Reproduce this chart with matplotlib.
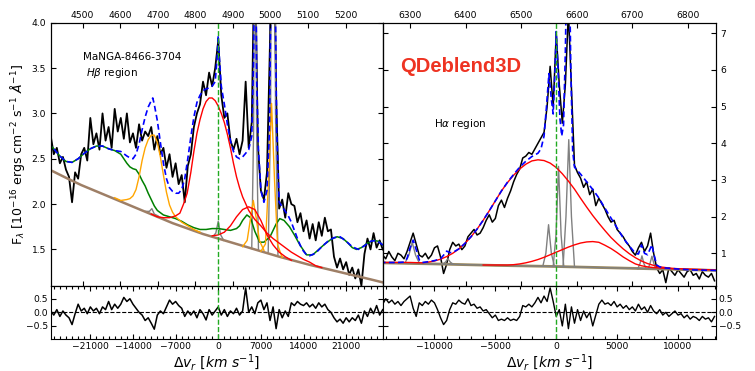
import numpy as np
import matplotlib.pyplot as plt
from matplotlib.ticker import MultipleLocator

C_KMS = 299792.458
LAM_HB = 4861.0
LAM_HA = 6563.0

# ---------------- H-beta region (left) ----------------
hb_v = np.arange(-27500, 27001, 500)
hb_flux = [2.75, 2.55, 2.62, 2.45, 2.52, 2.38, 2.30, 2.02, 2.35, 2.28,
           2.55, 2.62, 2.48, 2.95, 2.66, 2.78, 2.60, 3.00, 2.70, 2.85,
           2.62, 3.05, 2.80, 2.95, 2.72, 3.00, 2.68, 2.78, 2.62, 2.88,
           2.70, 2.80, 2.75, 2.85, 2.60, 2.75, 2.55, 2.62, 2.40, 2.55,
           2.30, 2.45, 2.22, 2.32, 2.02, 2.42, 2.55, 2.85, 3.00, 3.10,
           3.35, 3.20, 3.45, 3.30, 3.50, 3.80, 3.20, 2.95, 3.00, 2.70,
           2.60, 2.72, 2.55, 2.70, 3.35, 2.62, 2.90, 5.00, 2.65, 2.15,
           2.05, 2.35, 3.80, 6.00, 3.20, 1.95, 2.05, 1.85, 2.12, 2.00,
           1.98, 1.80, 1.90, 1.70, 1.82, 1.62, 1.78, 1.60, 1.80, 1.65,
           1.85, 1.70, 1.72, 1.42, 1.30, 1.40, 1.28, 1.36, 1.22, 1.30,
           1.18, 1.28, 1.10, 1.45, 1.62, 1.50, 1.68, 1.52, 1.60, 1.50]
hb_resid = [0.05, -0.10, 0.10, -0.15, 0.05, -0.10, -0.20, -0.45, -0.05, 0.30,
            0.05, 0.15, -0.05, 0.20, 0.05, 0.15, -0.05, 0.20, 0.10, 0.40,
            0.10, 0.30, 0.15, 0.30, 0.55, 0.40, 0.50, 0.30, 0.15, 0.00,
            -0.10, -0.30, -0.20, -0.40, -0.62, -0.10, 0.05, -0.05, 0.20, 0.45,
            0.30, 0.40, 0.25, 0.15, -0.15, 0.05, -0.10, 0.05, -0.20, 0.10,
            -0.05, -0.28, 0.10, -0.10, 0.05, 0.20, -0.10, 0.10, -0.15, 0.05,
            -0.05, 0.15, -0.10, 0.05, 0.90, 0.00, 0.20, -0.05, 0.35, 0.45,
            0.10, 0.35, -0.30, 0.20, -0.60, 0.10, -0.20, 0.05, -0.15, 0.35,
            0.25, 0.40, 0.30, 0.25, 0.35, 0.20, 0.30, 0.15, 0.35, 0.20,
            0.30, 0.10, 0.00, -0.20, -0.35, -0.25, -0.40, -0.20, -0.35, -0.20,
            -0.30, -0.10, -0.40, 0.05, -0.15, 0.15, -0.05, 0.25, -0.10, 0.10]

hb_cont_v = [-28000, -25000, -22500, -20000, -17500, -15000, -12500, -10000, -7500, -5000, -2500, 0,
             2500, 5000, 7500, 10000, 12500, 15000, 17500, 20000, 22500, 25000, 28000]
hb_cont = [2.39, 2.29, 2.21, 2.14, 2.07, 2.00, 1.93, 1.86, 1.79, 1.73, 1.67, 1.62,
           1.57, 1.52, 1.47, 1.42, 1.375, 1.33, 1.29, 1.25, 1.21, 1.17, 1.12]

hb_feii_v = [-28000, -27000, -26000, -25000, -24000, -23000, -22000, -21000, -20000, -19000, -18000,
             -17000, -16000, -15000, -14500, -14000, -13500, -13000, -12500, -12000, -11500, -11000,
             -10500, -10000, -9000, -8000, -7000, -6000, -5000, -4000, -3000, -2000, -1000, 0, 1000,
             2000, 3000, 3500, 4000, 4700, 5300, 6000, 6800, 7500, 8500, 9500, 10100, 10800, 11700,
             12500, 13400, 14500, 15500, 16500, 17500, 18500, 19500, 20500, 21300, 22000, 22700,
             23500, 24500, 25500, 26300, 27000, 28000]
hb_feii = [2.68, 2.61, 2.53, 2.47, 2.46, 2.50, 2.56, 2.61, 2.64, 2.64, 2.61,
           2.59, 2.55, 2.45, 2.41, 2.39, 2.38, 2.33, 2.26, 2.20, 2.12, 2.05,
           1.98, 1.93, 1.88, 1.86, 1.84, 1.81, 1.77, 1.74, 1.72, 1.72, 1.73, 1.73, 1.72,
           1.71, 1.73, 1.76, 1.82, 1.88, 1.85, 1.70, 1.58, 1.58, 1.64, 1.78, 1.84, 1.82, 1.75,
           1.66, 1.55, 1.44, 1.44, 1.50, 1.56, 1.61, 1.64, 1.62, 1.57, 1.52, 1.50,
           1.52, 1.57, 1.60, 1.59, 1.55, 1.50]

hb_heii_v = [-17000, -16000, -15000, -14500, -14000, -13500, -13000, -12500, -12000, -11500, -11000,
             -10500, -10000, -9500, -9000, -8500, -8000, -7500, -7000, -6000, -5000, -4000, -3000]
hb_heii = [2.07, 2.04, 2.05, 2.06, 2.09, 2.16, 2.30, 2.48, 2.62, 2.71, 2.76,
           2.76, 2.68, 2.52, 2.32, 2.13, 1.99, 1.91, 1.86, 1.80, 1.76, 1.72, 1.69]
hb_o3a_v = [4000, 4750, 5250, 5750, 6250, 6750, 7500]
hb_o3a = [1.53, 1.60, 1.82, 2.04, 1.84, 1.60, 1.49]
hb_o3b_v = [7000, 7750, 8250, 8750, 9250, 9750, 10500]
hb_o3b = [1.48, 1.56, 2.25, 3.11, 2.25, 1.55, 1.41]

hb_broad_v = [-11000, -10000, -9000, -8000, -7000, -6300, -5700, -5100, -4500, -4000, -3500, -3000,
              -2500, -2000, -1500, -1000, -500, 0, 500, 1000, 1500, 2000, 2500, 3000, 3500, 4000,
              5000, 6000, 7000, 8000, 9000, 10000, 11000, 12000, 13000, 14000, 15000, 16000, 17000]
hb_broad = [1.89, 1.86, 1.85, 1.85, 1.87, 1.90, 2.00, 2.12, 2.35, 2.58, 2.78, 2.93,
            3.05, 3.13, 3.17, 3.17, 3.14, 3.08, 3.00, 2.90, 2.77, 2.62, 2.45, 2.30, 2.18, 2.08,
            1.93, 1.83, 1.76, 1.68, 1.62, 1.57, 1.52, 1.47, 1.43, 1.39, 1.36, 1.32, 1.30]
hb_bump_v = [-1000, 0, 1000, 2000, 3000, 4000, 5000, 6000, 7000, 8000, 9000, 10000, 11000, 12000]
hb_bump = [1.65, 1.66, 1.69, 1.76, 1.86, 1.94, 1.97, 1.94, 1.82, 1.66, 1.55, 1.47, 1.42, 1.38]

hb_narrow = [([-11900, -11300, -10900, -10500, -9900], [1.92, 1.92, 1.95, 1.89, 1.87]),
             ([-900, -400, 0, 400, 900], [1.64, 1.68, 1.81, 1.66, 1.60]),
             ([5500, 5800, 6050, 6300, 6600], [1.51, 2.80, 6.50, 2.80, 1.50]),
             ([8200, 8600, 9000, 9400, 9800], [1.47, 3.00, 12.0, 3.00, 1.44])]

hb_model_v = [-28000, -27000, -26000, -25000, -24000, -23000, -22000, -21000, -20000, -19000, -18000,
              -17000, -16000, -15000, -14500, -14000, -13500, -13000, -12500, -12000, -11500, -11000,
              -10750, -10500, -10000, -9500, -9000, -8500, -8000, -7500, -7000, -6500, -6000, -5500,
              -5000, -4500, -4000, -3500, -3000, -2500, -2000, -1500, -1000, -500, -200, 0, 200, 500,
              1000, 1500, 2000, 2500, 3000, 3500, 4000, 4500, 5000, 5500, 5800, 6050, 6300, 6600,
              7000, 7500, 8000, 8400, 8750, 9000, 9250, 9600, 10000, 10500, 11000, 11500, 12000,
              12500, 13000, 13500, 14000, 14500, 15000, 16000, 17000, 18000, 19000, 20000, 21000,
              22000, 23000, 24000, 25000, 26000, 27000, 28000]
hb_model = [2.68, 2.61, 2.53, 2.47, 2.46, 2.50, 2.56, 2.61, 2.64, 2.64, 2.61,
            2.59, 2.58, 2.53, 2.51, 2.50, 2.55, 2.66, 2.82, 2.96, 3.07, 3.14,
            3.17, 3.10, 2.92, 2.68, 2.45, 2.28, 2.18, 2.14, 2.12, 2.12, 2.16, 2.28,
            2.50, 2.74, 2.96, 3.12, 3.20, 3.25, 3.27, 3.28, 3.30, 3.35, 3.60, 3.86, 3.60, 3.30,
            3.10, 2.88, 2.70, 2.58, 2.52, 2.50, 2.52, 2.56, 2.60, 2.75, 3.60, 6.00, 3.40, 2.60,
            2.15, 2.02, 2.15, 2.80, 5.00, 9.00, 5.00, 2.80, 2.02, 1.97, 1.92, 1.87, 1.80,
            1.71, 1.62, 1.54, 1.48, 1.44, 1.43, 1.46, 1.53, 1.59, 1.63, 1.64, 1.59,
            1.53, 1.50, 1.54, 1.59, 1.60, 1.55, 1.50]

# ---------------- H-alpha region (right) ----------------
ha_v = np.arange(-14250, 13001, 250)
ha_flux = [0.95, 0.85, 1.05, 0.90, 0.80, 1.00, 0.95, 0.85, 1.05, 1.30,
           1.55, 1.25, 0.95, 0.90, 1.00, 0.85, 0.95, 1.15, 1.20, 0.90,
           0.45, 0.70, 1.10, 1.30, 1.20, 1.25, 1.10, 1.20, 1.45, 1.55,
           1.65, 1.50, 1.55, 1.70, 1.90, 2.05, 1.85, 1.95, 2.30, 2.45,
           2.25, 2.50, 2.70, 2.95, 3.15, 3.30, 3.60, 3.65, 3.75, 3.70,
           3.85, 4.00, 4.15, 4.30, 5.00, 6.10, 5.00, 7.00, 5.60, 4.55,
           5.60, 7.60, 5.50, 3.40, 3.20, 3.05, 2.80, 2.95, 2.60, 2.75,
           2.30, 2.50, 2.35, 2.20, 2.00, 1.85, 1.90, 1.65, 1.55, 1.45,
           1.30, 1.20, 1.05, 0.95, 1.15, 1.30, 1.05, 1.20, 1.55, 1.00,
           0.60, 0.45, 0.55, 0.20, 0.60, 0.50, 0.40, 0.55, 0.45, 0.35,
           0.50, 0.55, 0.40, 0.45, 0.30, 0.50, 0.40, 0.35, 0.45, 0.25]
ha_resid = [0.30, 0.50, 0.35, 0.45, 0.30, 0.40, 0.25, 0.40, 0.50, 0.60,
            0.15, -0.15, 0.35, 0.25, 0.40, 0.30, 0.45, 0.35, 0.10, -0.20,
            -0.45, -0.30, 0.10, 0.35, 0.30, 0.45, 0.35, 0.30, 0.50, 0.25,
            0.30, 0.15, 0.20, 0.05, 0.10, -0.05, -0.20, -0.10, -0.30, -0.25,
            -0.30, -0.20, -0.30, -0.25, -0.30, -0.15, 0.25, 0.20, 0.30, 0.20,
            0.35, 0.55, 0.35, 0.60, 0.40, 0.90, 0.40, -0.15, 0.10, -0.50,
            0.30, -0.60, 0.20, -0.40, 0.10, -0.30, 0.05, -0.20, 0.00, -0.50,
            -0.10, 0.30, 0.45, 0.30, 0.35, 0.25, 0.40, 0.20, 0.30, 0.15,
            0.25, 0.10, 0.20, 0.05, 0.30, 0.10, 0.20, 0.00, 0.25, 0.05,
            -0.05, 0.10, -0.10, 0.00, -0.15, -0.05, 0.05, -0.10, -0.05, -0.20,
            -0.10, -0.25, -0.15, -0.20, -0.30, -0.15, -0.25, -0.20, -0.35, -0.15]

ha_cont_v = [-14500, -10000, -5000, 0, 5000, 10000, 13500]
ha_cont = [0.74, 0.71, 0.67, 0.64, 0.60, 0.56, 0.53]

ha_broad1_v = [-14500, -12000, -11000, -10500, -10000, -9500, -9000, -8500, -8000, -7500, -7000,
               -6500, -6000, -5500, -5000, -4500, -4000, -3500, -3000, -2500, -2000, -1500, -1000,
               -500, 0, 500, 1000, 1500, 2000, 2500, 3000, 3500, 4000, 4500, 5000, 5500, 6000,
               6500, 7000, 7500, 8000, 8500, 9000, 9500, 10000, 13500]
ha_broad1 = [0.75, 0.75, 0.74, 0.76, 0.79, 0.84, 0.91, 1.00, 1.12, 1.27, 1.45,
             1.66, 1.90, 2.16, 2.43, 2.70, 2.93, 3.13, 3.30, 3.43, 3.52, 3.55, 3.53,
             3.46, 3.34, 3.17, 2.97, 2.75, 2.50, 2.26, 2.03, 1.82, 1.62, 1.43, 1.27, 1.12, 0.99,
             0.88, 0.79, 0.72, 0.67, 0.63, 0.61, 0.59, 0.58, 0.54]
ha_broad2_v = [-6000, -5000, -4000, -3500, -3000, -2500, -2000, -1500, -1000, -500, 0, 500, 1000,
               1500, 2000, 2500, 3000, 3500, 4000, 4500, 5000, 5500, 6000, 6500, 7000, 7500, 8000,
               8500, 9000, 10000]
ha_broad2 = [0.68, 0.68, 0.68, 0.69, 0.71, 0.74, 0.78, 0.83, 0.89, 0.96, 1.03, 1.10, 1.17,
             1.23, 1.28, 1.31, 1.32, 1.30, 1.22, 1.13, 1.02, 0.90, 0.80, 0.71, 0.66, 0.63, 0.61,
             0.60, 0.59, 0.57]

ha_narrow = [([-12400, -12100, -11830, -11550, -11250], [0.75, 0.95, 1.30, 0.95, 0.74]),
             ([-9300, -9100, -8900, -8700, -8500], [0.71, 0.76, 0.85, 0.76, 0.71]),
             ([-1100, -850, -630, -400, -150], [0.65, 1.00, 1.78, 1.00, 0.65]),
             ([-250, -20, 190, 400, 620], [0.64, 1.50, 3.37, 1.50, 0.64]),
             ([560, 800, 1030, 1250, 1500], [0.63, 2.00, 4.10, 2.00, 0.63]),
             ([6700, 6880, 7040, 7200, 7380], [0.58, 0.72, 0.93, 0.72, 0.58]),
             ([7550, 7700, 7860, 8020, 8180], [0.58, 0.72, 0.92, 0.72, 0.58])]

ha_model_v = [-14500, -13000, -12500, -12250, -12000, -11750, -11500, -11250, -11000, -10500,
              -10000, -9500, -9250, -9000, -8750, -8500, -8000, -7500, -7000, -6500, -6000, -5500,
              -5000, -4500, -4000, -3500, -3000, -2500, -2000, -1500, -1250, -1000, -800, -600,
              -400, -250, -100, 0, 150, 300, 450, 600, 750, 900, 1050, 1200, 1350, 1500, 2000,
              2500, 3000, 3500, 4000, 4500, 5000, 5500, 6000, 6500, 6750, 7000, 7250, 7500, 7750,
              7860, 8000, 8250, 8500, 9000, 10000, 11000, 12000, 13500]
ha_model = [0.75, 0.75, 0.76, 0.86, 1.15, 1.36, 1.10, 0.82, 0.75, 0.77,
            0.80, 0.85, 0.95, 1.06, 1.02, 1.02, 1.12, 1.27, 1.45, 1.66, 1.90, 2.16,
            2.43, 2.70, 2.94, 3.15, 3.35, 3.51, 3.64, 3.73, 3.85, 4.20, 5.00, 5.90,
            5.20, 4.80, 6.00, 7.05, 6.00, 4.70, 4.20, 4.50, 6.50, 9.50, 9.50, 6.00, 3.80, 3.35, 3.16,
            2.95, 2.74, 2.51, 2.23, 1.96, 1.69, 1.42, 1.20, 1.00, 0.98, 1.23, 1.00, 0.96, 1.15,
            1.23, 1.00, 0.68, 0.63, 0.60, 0.57, 0.55, 0.54, 0.53]

# ---------------- figure ----------------
fig = plt.figure(figsize=(7.55, 3.71), dpi=100)
ax1 = fig.add_axes([0.0672, 0.2299, 0.4397, 0.7089])
ax2 = fig.add_axes([0.5069, 0.2299, 0.4411, 0.7089])
r1 = fig.add_axes([0.0672, 0.0863, 0.4397, 0.1436])
r2 = fig.add_axes([0.5069, 0.0863, 0.4411, 0.1436])

TS = 6.6
model_kw = dict(color='blue', lw=1.2, ls=(0, (3.5, 2)), zorder=5)
vline_kw = dict(color='#22aa22', ls='--', lw=1.0, zorder=6)

# left spectrum
ax1.plot(hb_v, hb_flux, color='black', lw=1.3, zorder=2)
for nv, nf in hb_narrow:
    ax1.plot(nv, nf, color='gray', lw=1.0, zorder=3)
ax1.plot(hb_cont_v, hb_cont, color='#9e7f66', lw=1.8, zorder=3)
ax1.plot(hb_feii_v, hb_feii, color='green', lw=1.1, zorder=3)
ax1.plot(hb_heii_v, hb_heii, color='orange', lw=1.0, zorder=3)
ax1.plot(hb_o3a_v, hb_o3a, color='orange', lw=1.0, zorder=3)
ax1.plot(hb_o3b_v, hb_o3b, color='orange', lw=1.0, zorder=3)
ax1.plot(hb_broad_v, hb_broad, color='red', lw=1.0, zorder=3)
ax1.plot(hb_bump_v, hb_bump, color='red', lw=1.0, zorder=3)
ax1.plot(hb_model_v, hb_model, **model_kw)
ax1.axvline(0, **vline_kw)

hb_lim = (-27500, 27000)
ax1.set_xlim(hb_lim)
ax1.set_ylim(1.1, 4.0)
ax1.set_yticks([1.5, 2.0, 2.5, 3.0, 3.5, 4.0])
ax1.tick_params(axis='x', bottom=False, top=False, labelbottom=False)
ax1.tick_params(axis='y', direction='in', left=True, right=True, labelsize=TS, length=3.5, width=0.8)
ax1.set_ylabel(r'F$_\lambda$ [10$^{-16}$ ergs cm$^{-2}$ s$^{-1}$ $\AA^{-1}$]', fontsize=9, labelpad=3)
ax1t = ax1.twiny()
ax1t.set_xlim([LAM_HB * (1 + v / C_KMS) for v in hb_lim])
ax1t.set_xticks(range(4500, 5201, 100))
ax1t.tick_params(axis='x', direction='in', top=True, bottom=True, labeltop=True, labelbottom=False,
                 labelsize=TS, length=3.5, width=0.8, pad=2)
ax1.text(0.097, 0.870, 'MaNGA-8466-3704', transform=ax1.transAxes, fontsize=7.5, va='center')
ax1.text(0.106, 0.809, r'$H\beta$ region', transform=ax1.transAxes, fontsize=7.5, va='center')

# right spectrum
ax2.plot(ha_v, ha_flux, color='black', lw=1.1, zorder=2)
ax2.plot(ha_cont_v, ha_cont, color='#9e8a5a', lw=2.0, zorder=3)
ax2.plot(ha_cont_v, ha_cont, color='gray', lw=1.0, zorder=3)
for nv, nf in ha_narrow:
    ax2.plot(nv, nf, color='gray', lw=1.0, zorder=3)
ax2.plot(ha_broad1_v, ha_broad1, color='red', lw=1.0, zorder=3)
ax2.plot(ha_broad2_v, ha_broad2, color='red', lw=1.0, zorder=3)
ax2.plot(ha_model_v, ha_model, **model_kw)
ax2.axvline(0, **vline_kw)

ha_lim = (-14250, 13100)
ax2.set_xlim(ha_lim)
ax2.set_ylim(0.116, 7.29)
ax2.set_yticks(range(1, 8))
ax2.tick_params(axis='x', bottom=False, top=False, labelbottom=False)
ax2.tick_params(axis='y', direction='in', left=True, right=True, labelleft=False, labelright=True,
                labelsize=TS, length=3.5, width=0.8)
ax2t = ax2.twiny()
ax2t.set_xlim([LAM_HA * (1 + v / C_KMS) for v in ha_lim])
ax2t.set_xticks(range(6300, 6801, 100))
ax2t.tick_params(axis='x', direction='in', top=True, bottom=True, labeltop=True, labelbottom=False,
                 labelsize=TS, length=3.5, width=0.8, pad=2)
ax2.text(0.2346, 0.835, 'QDeblend3D', transform=ax2.transAxes, fontsize=14.5, fontweight='bold',
         family='Liberation Sans', color='#ee3322', ha='center', va='center')
ax2.text(0.231, 0.615, r'H$\alpha$ region', transform=ax2.transAxes, fontsize=7.5,
         ha='center', va='center')

# residuals
r1.plot(hb_v, hb_resid, color='black', lw=1.1, zorder=2)
r2.plot(ha_v, ha_resid, color='black', lw=1.0, zorder=2)
for r, lim in ((r1, hb_lim), (r2, ha_lim)):
    r.axhline(0, color='black', ls='--', lw=0.8, zorder=1)
    r.axvline(0, **vline_kw)
    r.set_xlim(lim)
    r.set_ylim(-0.98, 0.98)
    r.set_yticks([-0.5, 0.0, 0.5])
    r.xaxis.set_minor_locator(MultipleLocator(1000))
    r.tick_params(which='both', direction='in', top=True, bottom=True, left=True, right=True,
                  labelsize=TS, width=0.8, pad=2)
    r.tick_params(which='major', length=3.5)
    r.tick_params(which='minor', length=2)
    r.set_xlabel(r'$\Delta v_r\ [km\ s^{-1}]$', fontsize=10, labelpad=1)
r1.set_xticks([-21000, -14000, -7000, 0, 7000, 14000, 21000])
r2.set_xticks([-10000, -5000, 0, 5000, 10000])
r2.tick_params(axis='y', labelleft=False, labelright=True)

fig.savefig('out.png', dpi=100)
